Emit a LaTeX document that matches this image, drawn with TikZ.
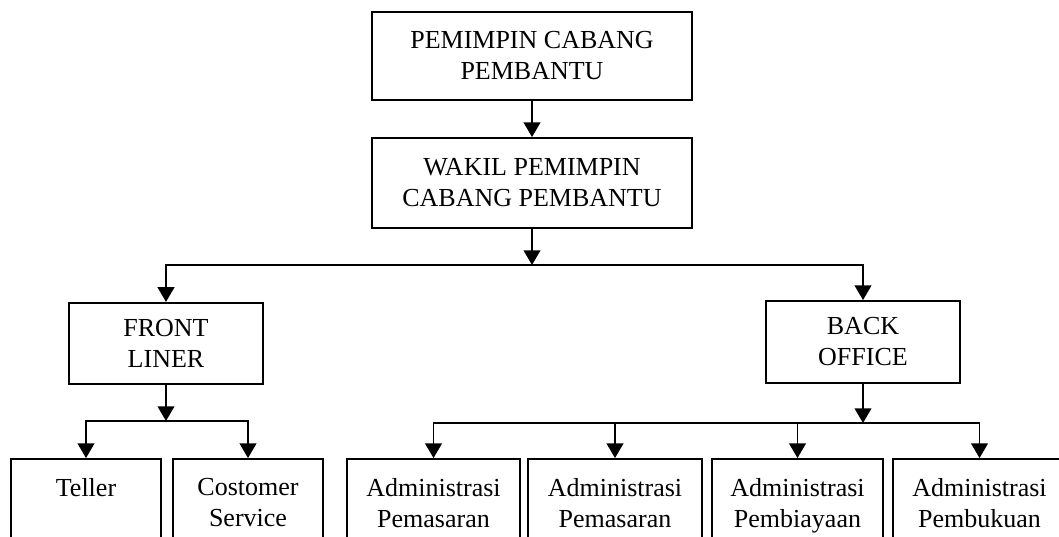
\documentclass[tikz,border=0pt]{standalone}
\usepackage{fontspec}
\setmainfont{Liberation Serif}
\usetikzlibrary{arrows.meta}
\begin{document}
\begin{tikzpicture}[x=0.75pt,y=-0.75pt,
  box/.style={draw,line width=1.4pt,align=center,inner sep=0pt,
    font=\fontsize{19.5}{23.25}\selectfont},
  arr/.style={line width=1.4pt,-{Triangle[width=12.5pt,length=11pt]}}]
\useasboundingbox (0,0) rectangle (1059,536);
\clip (0,0) rectangle (1059,536);
\node[box,minimum width=240pt,minimum height=66pt] (top) at (532,56) {PEMIMPIN CABANG\\PEMBANTU};
\node[box,minimum width=240pt,minimum height=67.5pt] (wakil) at (532,183) {WAKIL PEMIMPIN\\CABANG PEMBANTU};
\node[box,minimum width=146pt,minimum height=61pt] (front) at (166,343.5) {FRONT\\LINER};
\node[box,minimum width=146pt,minimum height=61.5pt] (back) at (863,342) {BACK\\OFFICE};
\node[box,minimum width=113pt,minimum height=66pt] (teller) at (86,503) {Teller\\\mbox{}};
\node[box,minimum width=112.5pt,minimum height=66pt] (cs) at (248,503) {Costomer\\Service};
\node[box,minimum width=130pt,minimum height=66pt] (a1) at (433.5,503) {Administrasi\\Pemasaran};
\node[box,minimum width=130pt,minimum height=66pt] (a2) at (615,503) {Administrasi\\Pemasaran};
\node[box,minimum width=128pt,minimum height=66pt] (a3) at (797.5,503) {Administrasi\\\smash{Pembiayaan}};
\node[box,minimum width=130pt,minimum height=66pt] (a4) at (979.5,503) {Administrasi\\Pembukuan};
\coordinate (j1) at (532,265);
\coordinate (j2) at (166,421);
\coordinate (j3) at (863,423);
\draw[arr] (top) -- (wakil);
\draw[arr] (wakil) -- (j1);
\draw[arr] (j1) -| (front.north);
\draw[arr] (j1) -| (back.north);
\draw[arr] (front) -- (j2);
\draw[arr] (j2) -| (teller.north);
\draw[arr] (j2) -| (cs.north);
\draw[arr] (back) -- (j3);
\draw[arr] (j3) -| (a1.north);
\draw[arr] (j3) -| (a2.north);
\draw[arr] (j3) -| (a3.north);
\draw[arr] (j3) -| (a4.north);
\end{tikzpicture}
\end{document}
